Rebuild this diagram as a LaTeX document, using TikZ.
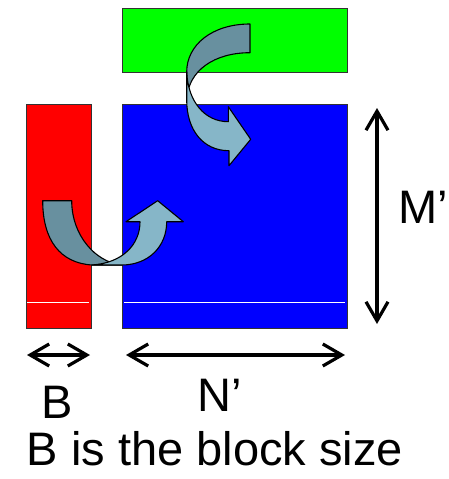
\documentclass[tikz,border=0pt]{standalone}
\usepackage{fontspec}
\setmainfont{Liberation Sans}
\usetikzlibrary{arrows.meta}

\definecolor{ribbondark}{RGB}{104,144,159}
\definecolor{ribbonlight}{RGB}{134,182,200}

\begin{document}
\begin{tikzpicture}[x=1pt,y=-1pt,font=\fontsize{47}{56}\selectfont,
  block/.style={draw=black!80,line width=0.8pt,inner sep=0pt,outer sep=0pt},
  dim/.style={line width=3.2pt,{Straight Barb[length=19pt,width=22pt,line width=3.2pt]}-{Straight Barb[length=19pt,width=22pt,line width=3.2pt]}},
  ribbon/.style={draw=black,line width=1.1pt,line join=round}]
\useasboundingbox (0,0) rectangle (448,479);
\node[block,fill=red,minimum width=65pt,minimum height=224pt] (red) at (58.5,216) {};
\node[block,fill=blue,minimum width=225pt,minimum height=224pt] (blue) at (234.5,216) {};
\node[block,fill=green,minimum width=225pt,minimum height=64pt] (green) at (234.5,40) {};
\draw[white,line width=0.8pt] (27,302) -- (89,302) (124,302) -- (345,302);
% curved arrow, red into blue
\draw[ribbon,fill=ribbondark] (42.7,200.7) -- (71.7,200.7)
  .. controls (71.7,235) and (95,262) .. (121.7,265) -- (92,265)
  .. controls (60,263) and (42.7,240) .. cycle;
\draw[ribbon,fill=ribbonlight] (92,265) .. controls (122,263) and (140,245) .. (140,221.7)
  -- (126,221.7) -- (157.7,200.7) -- (183.3,221.7) -- (166.7,221.7)
  .. controls (166.7,247) and (148,265) .. (121.7,265) -- cycle;
% curved arrow, green into blue
\draw[ribbon,fill=ribbondark] (250,24) .. controls (212,24) and (186.7,45) .. (186.7,72)
  -- (186.7,100) .. controls (188,70) and (215,52.7) .. (250,52.7) -- cycle;
\draw[ribbon,fill=ribbonlight] (186.7,72) .. controls (188,102) and (205,121.7) .. (228.3,121.7)
  -- (228.3,106.7) -- (250.7,139.3) -- (229,165.7) -- (229,150.7)
  .. controls (203,150.7) and (186.7,130) .. (186.7,100) -- cycle;
% sizes
\draw[dim] ([shift={(30,4)}]blue.north east) -- ([shift={(30,-4)}]blue.south east);
\draw[dim] ([shift={(1,27)}]red.south west) -- ([shift={(-1,27)}]red.south east);
\draw[dim] ([shift={(4,27)}]blue.south west) -- ([shift={(-2,27)}]blue.south east);
\node[anchor=base] (mlabel) at (423,223) {M’};
\node[anchor=base] (blabel) at (57.5,418) {B};
\node[anchor=base] (nlabel) at (220,411.5) {N’};
\node[anchor=base] (caption) at (215,465) {B is the block size};
\end{tikzpicture}
\end{document}
